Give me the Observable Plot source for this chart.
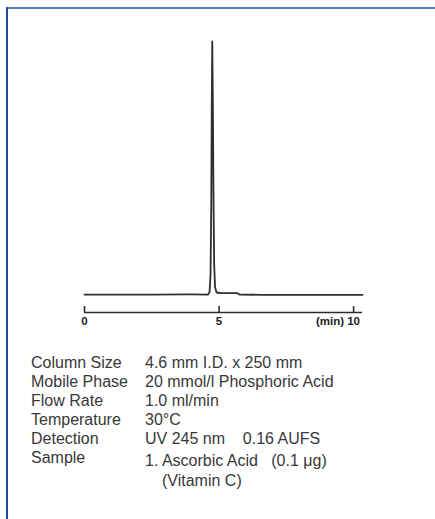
<!DOCTYPE html>
<html><head><meta charset="utf-8">
<script src="https://cdn.jsdelivr.net/npm/d3@7"></script>
<script src="https://cdn.jsdelivr.net/npm/@observablehq/plot@0.6"></script>
<style>
body{margin:0;background:#fff;font-family:"Liberation Sans",Arial,Helvetica,sans-serif;}
#wrap{position:relative;width:435px;height:519px;overflow:hidden;background:#fff;}
#chart{position:absolute;left:0;top:0;}
.ft{position:absolute;left:6px;top:7px;width:429px;height:2px;background:#5581ba;}
.fl{position:absolute;left:6px;top:7px;width:2px;height:512px;background:#1c4d9d;}
.t{position:absolute;font-size:16px;line-height:19px;color:#383838;white-space:pre;}
</style></head><body>
<div id="wrap"><div id="chart"></div><div class="ft"></div><div class="fl"></div><div id="info"></div></div>
<script>
// retention time (min) and detector signal (relative, peak = 100)
const time   = [0, 0.6, 2.45, 3.94, 4.591, 4.647, 4.684, 4.710, 4.729, 4.747, 4.770, 4.792, 4.818, 4.851, 4.907, 5.056, 5.688, 5.762, 6.54, 8.03, 10.33];
const signal = [0, 0, -0.05, 0.05, 0, 1, 8, 35, 75, 100, 75, 40, 12, 3, 0.8, 0.6, 0.55, 0, -0.1, -0.15, -0.15];
const xTicks = [0, 5, 10];
const xUnit = "(min)";
const xMax = 10.33;

const condLabels = ["Column Size", "Mobile Phase", "Flow Rate", "Temperature", "Detection", "Sample"];
const condValues = ["4.6 mm I.D. x 250 mm", "20 mmol/l Phosphoric Acid", "1.0 ml/min", "30°C", "UV 245 nm    0.16 AUFS", "1. Ascorbic Acid   (0.1 μg)"];
const sampleNote = "(Vitamin C)";

const yMin = -7.1, yMax = 100;
const plotTop = 41, plotBottom = 312;
const tickLen = 6 * (yMax - yMin) / (plotBottom - plotTop);
const data = time.map((t, i) => ({t, s: signal[i]}));

const chart = Plot.plot({
  width: 435, height: 330,
  marginLeft: 84, marginRight: 73, marginTop: plotTop, marginBottom: 330 - plotBottom,
  style: {background: "transparent", fontFamily: "Liberation Sans, Arial, sans-serif"},
  x: {domain: [0, xMax], axis: null},
  y: {domain: [yMin, yMax], axis: null},
  marks: [
    Plot.ruleY([yMin], {x1: 0, x2: xMax, stroke: "#2b2b2b", strokeWidth: 1.6}),
    Plot.ruleX(xTicks, {y1: yMin, y2: yMin + tickLen, stroke: "#2b2b2b", strokeWidth: 1.6}),
    Plot.text(xTicks, {x: d => d, y: yMin, dy: 4.5, lineAnchor: "top", text: d => String(d), fontWeight: "bold", fontSize: 11.5, fill: "#222"}),
    Plot.text([xUnit], {x: xTicks[2], y: yMin, dy: 4.5, dx: -9.5, lineAnchor: "top", textAnchor: "end", text: d => d, fontWeight: "bold", fontSize: 11.5, fill: "#222"}),
    Plot.line(data, {x: "t", y: "s", stroke: "#2f2f2f", strokeWidth: 1.8, strokeLinejoin: "round"})
  ]
});
document.getElementById("chart").appendChild(chart);

const info = document.getElementById("info");
const rowCenters = [362, 381, 400, 419, 438, 457];
function addText(str, left, center) {
  const d = document.createElement("div");
  d.className = "t";
  d.textContent = str;
  d.style.left = left + "px";
  d.style.top = (center - 9.3) + "px";
  info.appendChild(d);
}
condLabels.forEach((l, i) => addText(l, 31, rowCenters[i]));
condValues.forEach((v, i) => addText(v, 145, rowCenters[i] + (i === 5 ? 3.5 : 0)));
addText(sampleNote, 162, 480);
</script>
</body></html>
